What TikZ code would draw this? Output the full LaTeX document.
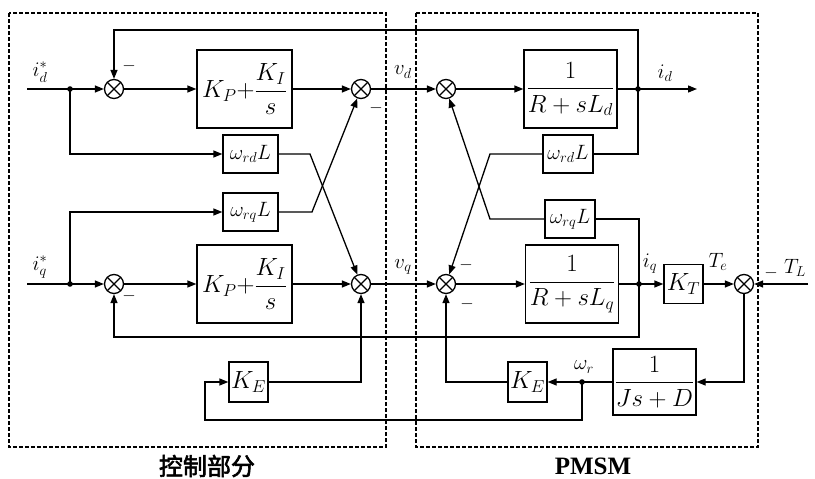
\documentclass[tikz,border=0pt]{standalone}
\usepackage{amsmath}
\usepackage{fontspec}
\setmainfont{Liberation Serif}
\newfontfamily\cjk[AutoFakeBold=2.5]{Noto Sans CJK SC}
\usetikzlibrary{arrows.meta,calc}
\begin{document}
\begin{tikzpicture}[x=1pt,y=-1pt,
  ln/.style={line width=1.3pt},
  arr/.style={line width=1.3pt,-{Triangle[length=9pt,width=7pt]}},
  blk/.style={draw,line width=1.3pt,inner sep=1pt,font=\fontsize{23}{27}\selectfont},
  sumn/.style={circle,draw,line width=1.3pt,minimum size=19pt,inner sep=0pt,
    path picture={\draw[line width=1.1pt] (path picture bounding box.north west) -- (path picture bounding box.south east)
      (path picture bounding box.south west) -- (path picture bounding box.north east);}},
  lbl/.style={font=\fontsize{21}{24}\selectfont,inner sep=0pt},
  mn/.style={font=\fontsize{18}{20}\selectfont,inner sep=0pt},
  dbox/.style={line width=1.2pt,dash pattern=on 4pt off 2pt}]
\useasboundingbox (0,0) rectangle (815,479);
% frames
\draw[dbox] (9,13) rectangle (386,447);
\draw[dbox] (416,13) rectangle (758,447);
% sums
\node[sumn] (S1) at (114,89) {};
\node[sumn] (S2) at (361,89) {};
\node[sumn] (S3) at (446,89) {};
\node[sumn] (S4) at (114,284) {};
\node[sumn] (S5) at (361,284) {};
\node[sumn] (S6) at (446,284) {};
\node[sumn] (S7) at (744,284) {};
% blocks
\node[blk,minimum width=95pt,minimum height=78pt] (PI1) at (244.5,89) {$K_P{+}\dfrac{K_I}{s}$};
\node[blk,minimum width=95pt,minimum height=78pt] (PI2) at (244.5,284) {$K_P{+}\dfrac{K_I}{s}$};
\node[blk,minimum width=93pt,minimum height=78pt] (Rd) at (570.5,89) {$\dfrac{1}{R+sL_d}$};
\node[blk,minimum width=93pt,minimum height=78pt] (Rq) at (572,284) {$\dfrac{1}{R+sL_q}$};
\node[blk,minimum width=55pt,minimum height=38pt,font=\fontsize{21}{24}\selectfont] (wdL) at (250.5,154) {$\omega_{rd}L$};
\node[blk,minimum width=55pt,minimum height=38pt,font=\fontsize{21}{24}\selectfont] (wqL) at (250.5,212) {$\omega_{rq}L$};
\node[blk,minimum width=50pt,minimum height=38pt,font=\fontsize{20}{24}\selectfont] (wdR) at (568,154) {$\omega_{rd}L$};
\node[blk,minimum width=50pt,minimum height=38pt,font=\fontsize{20}{24}\selectfont] (wqR) at (570,219) {$\omega_{rq}L$};
\node[blk,minimum width=39pt,minimum height=39pt] (KT) at (683.5,284) {$K_T$};
\node[blk,minimum width=83pt,minimum height=66pt] (Jb) at (654.5,382) {$\dfrac{1}{Js+D}$};
\node[blk,minimum width=39pt,minimum height=40pt] (KER) at (527.5,382) {$K_E$};
\node[blk,minimum width=39pt,minimum height=40pt] (KEL) at (248.5,382) {$K_E$};
% coordinates
\coordinate (ind) at (27,89);
\coordinate (inq) at (27,284);
\coordinate (J1) at (70,89);
\coordinate (J2) at (70,284);
\coordinate (J3) at (638,89);
\coordinate (J4) at (639,284);
\coordinate (J5) at (582,382);
\coordinate (outd) at (697,89);
\coordinate (inTL) at (808,284);
% d row
\draw[arr] (ind) -- (S1);
\draw[arr] (S1) -- (PI1.west);
\draw[arr] (PI1.east) -- (S2);
\draw[arr] (S2) -- (S3);
\draw[arr] (S3) -- (Rd.west);
\draw[arr] (Rd.east) -- (outd);
\draw[arr] (J3) -- (638,30) -| (S1);
\draw[ln] (J3) |- (wdR.east);
% q row
\draw[arr] (inq) -- (S4);
\draw[arr] (S4) -- (PI2.west);
\draw[arr] (PI2.east) -- (S5);
\draw[arr] (S5) -- (S6);
\draw[arr] (S6) -- (Rq.west);
\draw[arr] (Rq.east) -- (KT.west);
\draw[arr] (KT.east) -- (S7);
\draw[arr] (inTL) -- (S7);
\draw[ln] (J4) |- (wqR.east);
\draw[arr] (J4) -- (639,337) -| (S4);
% cross couplings
\draw[arr] (J1) |- (wdL.west);
\draw[arr] (J2) |- (wqL.west);
\draw[arr] (wdL.east) -- (310,154) -- (S5);
\draw[arr] (wqL.east) -- (312,212) -- (S2);
\draw[arr] (wdR.west) -- (490,154) -- (S6);
\draw[arr] (wqR.west) -- (490,219) -- (S3);
% mechanical
\draw[arr] (S7) |- (Jb.east);
\draw[arr] (Jb.west) -- (KER.east);
\draw[arr] (KER.west) -| (S6);
\draw[arr] (J5) -- (582,420) -- (205,420) |- (KEL.west);
\draw[arr] (KEL.east) -| (S5);
% dots
\foreach \p in {J1,J2,J3,J4,J5} \fill (\p) circle (2.8pt);
% labels
\node[lbl] (lid) at (40,72) {$i_d^{*}$};
\node[lbl] (liq) at (40,267) {$i_q^{*}$};
\node[lbl] (lvd) at (403,72) {$v_d$};
\node[lbl] (lvq) at (403,267) {$v_q$};
\node[lbl] (lido) at (665,73) {$i_d$};
\node[lbl] (liqo) at (650,264) {$i_q$};
\node[lbl] (lTe) at (718,262) {$T_e$};
\node[lbl] (lTL) at (795,268) {$T_L$};
\node[lbl] (lwr) at (584,367) {$\omega_r$};
\node[mn] (m1) at (129,66) {$-$};
\node[mn] (m2) at (129,296) {$-$};
\node[mn] (m3) at (376,108) {$-$};
\node[mn] (m4) at (466,265) {$-$};
\node[mn] (m5) at (467,304) {$-$};
\node[mn] (m6) at (771,273) {$-$};
\node[inner sep=0pt,font=\fontsize{24}{28}\selectfont] (lc) at (207,466) {\cjk\bfseries 控制部分};
\node[inner sep=0pt,font=\fontsize{25}{30}\selectfont] (lp) at (593,466) {$\mathbf{PMSM}$};
\end{tikzpicture}
\end{document}
